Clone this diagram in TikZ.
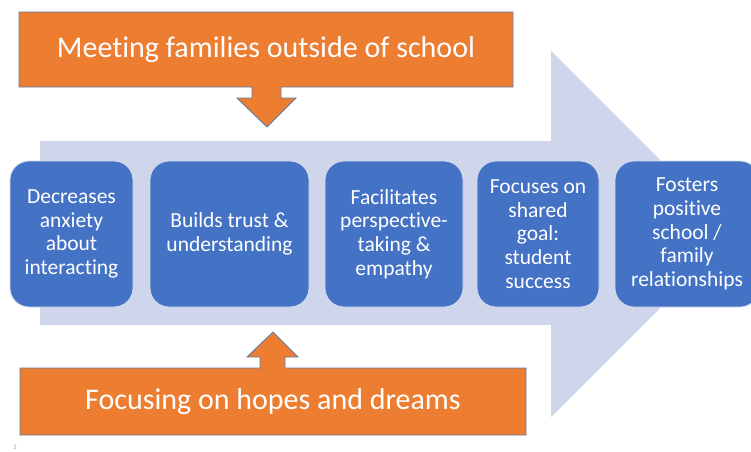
\documentclass[tikz,border=0pt]{standalone}
\usepackage{fontspec}
\setmainfont[Ligatures=NoCommon]{Carlito}
\definecolor{arrowbg}{HTML}{CFD5EA}
\definecolor{orng}{HTML}{ED7D31}
\definecolor{orngline}{HTML}{5F7DA8}
\definecolor{bluebox}{HTML}{4472C4}
\definecolor{boxline}{HTML}{D6DEF0}
\tikzset{
  callout/.style={fill=orng, draw=orngline, line width=0.9pt, line join=miter},
  callouttext/.style={text=white, font=\fontsize{30}{34}\selectfont, inner sep=0pt},
  stepbox/.style={fill=bluebox, draw=boxline, line width=0.8pt, rounded corners=19pt,
    minimum height=146pt, text=white, align=center, inner sep=0pt,
    font=\fontsize{21.5}{23.8}\selectfont},
  pagenum/.style={text=gray!70, font=\fontsize{7}{8}\selectfont, inner sep=0pt}
}
\begin{document}
\begin{tikzpicture}[x=1pt,y=-1pt]
\useasboundingbox (0,0) rectangle (751,451);
% big background arrow
\fill[arrowbg] (40,141) -- (551,141) -- (551,51) -- (734,234) -- (551,417) -- (551,325) -- (40,325) -- cycle;
% top callout
\draw[callout] (19,12) -- (513,12) -- (513,87) -- (281,87) -- (281,98) -- (296,98) -- (267,127) -- (237,98) -- (252,98) -- (252,87) -- (19,87) -- cycle;
\node[callouttext] (top) at (266,50) {Meeting families outside of school};
% bottom callout
\draw[callout] (20,435) -- (20,368) -- (260,368) -- (260,357) -- (247,357) -- (273,332) -- (298,357) -- (285,357) -- (285,368) -- (526,368) -- (526,435) -- cycle;
\node[callouttext] (bottom) at (273,402) {Focusing on hopes and dreams};
% step boxes
\node[stepbox, minimum width=123pt] (b1) at (71.5,234) {Decreases\\anxiety\\about\\interacting};
\node[stepbox, minimum width=159pt] (b2) at (229.5,234) {Builds trust \&\\understanding};
\node[stepbox, minimum width=138pt] (b3) at (394,234) {Facilitates\\perspective-\\taking \&\\empathy};
\node[stepbox, minimum width=122pt] (b4) at (538,234) {Focuses on\\shared\\goal:\\student\\success};
\node[stepbox, minimum width=144pt] (b5) at (687,234) {Fosters\\positive\\school /\\family\\relationships};
\node[pagenum] (pg) at (15,447) {3};
\end{tikzpicture}
\end{document}
